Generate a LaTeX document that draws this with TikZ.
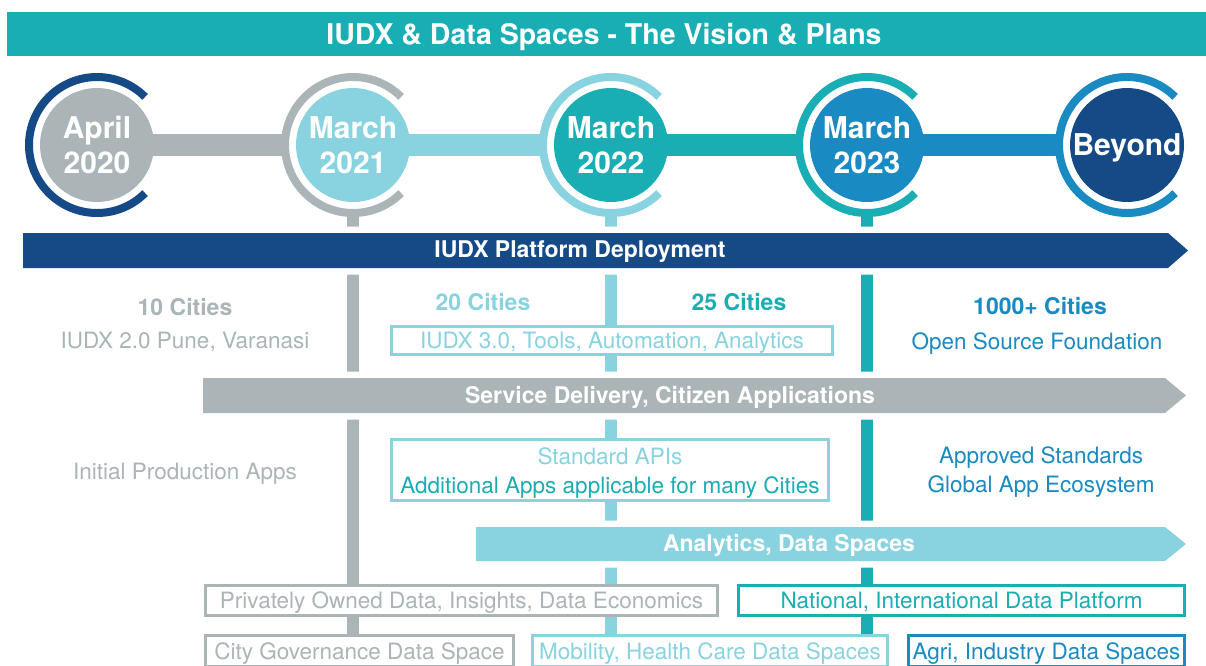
\documentclass[tikz,border=0pt]{standalone}
\usepackage{fontspec}
\setmainfont{TeX Gyre Heros}
\definecolor{navy}{HTML}{164A87}
\definecolor{greyc}{HTML}{ABB5B7}
\definecolor{lblue}{HTML}{89D3E0}
\definecolor{tealc}{HTML}{19ADB4}
\definecolor{mblue}{HTML}{1A8AC2}
\begin{document}
\begin{tikzpicture}[x=1pt,y=-1pt,
  vbar/.style={line width=12pt},
  cbar/.style={line width=22pt},
  gapring/.style={white, line width=9pt},
  ringst/.style={line width=8pt},
  datefill/.style={circle, minimum size=114pt, inner sep=0pt, text=white, align=center,
    font=\fontsize{30}{35}\selectfont\bfseries},
  arrowbar/.style={preaction={draw=white, line width=13pt, line join=round}},
  barlbl/.style={text=white, inner sep=0pt, text height=16.5pt, text depth=0pt, font=\fontsize{23}{27}\selectfont\bfseries},
  btxt/.style={inner sep=0pt, text height=16.5pt, text depth=0pt, font=\fontsize{23}{27}\selectfont\bfseries},
  rtxt/.style={inner sep=0pt, text height=16.2pt, text depth=0pt, font=\fontsize{22.5}{29}\selectfont},
  obox/.style={draw, line width=3pt, fill=white, inner sep=0pt, text height=16.2pt, text depth=0pt,
    font=\fontsize{22.5}{29}\selectfont}
]
\path[use as bounding box] (0,0) rectangle (1206,665);
\clip (0,0) rectangle (1206,665);
\fill[white] (0,0) rectangle (1206,665);

% title
\fill[tealc] (7,12) rectangle (1206,56);
\node[text=white, inner sep=0pt, text height=20.5pt, text depth=0pt, font=\fontsize{28.5}{32}\selectfont\bfseries] (title) at (604,34) {IUDX \& Data Spaces - The Vision \& Plans};

% circle centres
\coordinate (p1) at (97,145);
\coordinate (p2) at (353,145);
\coordinate (p3) at (611,145);
\coordinate (p4) at (867,145);
\coordinate (p5) at (1127,145);
\coordinate (b2) at (353,700);
\coordinate (b3) at (611,700);
\coordinate (b4) at (867,700);

% connecting bars
\draw[cbar, greyc] (p1) -- (p2);
\draw[cbar, lblue] (p2) -- (p3);
\draw[cbar, tealc] (p3) -- (p4);
\draw[cbar, mblue] (p4) -- (p5);

% vertical timelines
\draw[vbar, greyc] (p2) -- (b2);
\draw[vbar, lblue] (p3) -- (b3);
\draw[vbar, tealc] (p4) -- (b4);

% rings
\foreach \p/\c in {p1/navy, p2/greyc, p3/lblue, p4/tealc, p5/mblue}{
  \draw[gapring] (\p) ++(45:61) arc[start angle=45, end angle=315, radius=61];
  \draw[ringst, \c] (\p) ++(45:68) arc[start angle=45, end angle=315, radius=68];
}

% circles
\node[datefill, fill=greyc] (c1) at (p1) {April\\2020};
\node[datefill, fill=lblue] (c2) at (p2) {March\\2021};
\node[datefill, fill=tealc] (c3) at (p3) {March\\2022};
\node[datefill, fill=mblue] (c4) at (p4) {March\\2023};
\node[datefill, fill=navy] (c5) at (p5) {};
\node[text=white, inner sep=0pt, text height=21.5pt, text depth=0pt, font=\fontsize{30}{35}\selectfont\bfseries] (c5t) at (p5) {Beyond};

% arrow bars
\fill[navy, arrowbar] (23,233) -- (1168,233) -- (1188,250.5) -- (1168,268) -- (23,268) -- cycle;
\node[barlbl] (dep) at (580,249) {IUDX Platform Deployment};
\fill[greyc, arrowbar] (203,378) -- (1165,378) -- (1186,395.5) -- (1165,413) -- (203,413) -- cycle;
\node[barlbl] (svc) at (670,395) {Service Delivery, Citizen Applications};
\fill[lblue, arrowbar] (476,527) -- (1165,527) -- (1186,544) -- (1165,561) -- (476,561) -- cycle;
\node[barlbl] (ana) at (789,543) {Analytics, Data Spaces};

% row 1 texts
\node[btxt, text=greyc] (t10) at (185,307) {10 Cities};
\node[rtxt, text=greyc] (t10b) at (185,340) {IUDX 2.0 Pune, Varanasi};
\node[btxt, text=lblue] (t20) at (483,302) {20 Cities};
\node[btxt, text=tealc] (t25) at (739,302) {25 Cities};
\node[obox, draw=lblue, text=lblue, minimum width=441pt, minimum height=28pt] (iudx3) at (612,340.5) {IUDX 3.0, Tools, Automation, Analytics};
\node[btxt, text=mblue] (t1000) at (1040,306) {1000+ Cities};
\node[rtxt, text=mblue] (osf) at (1037,341) {Open Source Foundation};

% row 2 texts
\node[rtxt, text=greyc] (ipa) at (185,471) {Initial Production Apps};
\node[obox, draw=lblue, minimum width=437pt, minimum height=61pt] (apps) at (610,470) {};
\node[rtxt, text=lblue] (sapi) at (610,456) {Standard APIs};
\node[rtxt, text=tealc] (addl) at (610,485) {Additional Apps applicable for many Cities};
\node[rtxt, text=mblue] (aps) at (1041,455) {Approved Standards};
\node[rtxt, text=mblue] (gae) at (1041,484) {Global App Ecosystem};

% bottom boxes
\node[obox, draw=greyc, text=greyc, minimum width=512pt, minimum height=30pt] (priv) at (461.5,600.5) {Privately Owned Data, Insights, Data Economics};
\node[obox, draw=tealc, text=tealc, minimum width=446pt, minimum height=30pt] (natl) at (961.5,600.5) {National, International Data Platform};
\node[obox, draw=greyc, text=greyc, minimum width=308pt, minimum height=31pt] (city) at (359.5,651) {City Governance Data Space};
\node[obox, draw=lblue, text=lblue, minimum width=355pt, minimum height=31pt] (mob) at (710,651) {Mobility, Health Care Data Spaces};
\node[obox, draw=mblue, text=mblue, minimum width=276pt, minimum height=31pt] (agri) at (1046.5,651) {Agri, Industry Data Spaces};
\end{tikzpicture}
\end{document}
